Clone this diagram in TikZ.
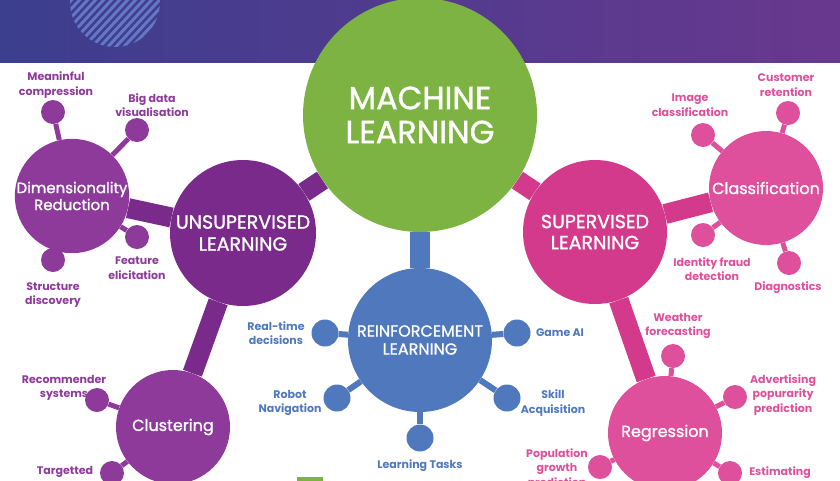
\documentclass[tikz,border=0pt]{standalone}
\usepackage{fontspec}
\setmainfont{Poppins}
\newfontfamily\hubfont{Poppins}[FakeBold=1.2]
\usepackage{tikz}
\usetikzlibrary{positioning, backgrounds}

\definecolor{bandleft}{RGB}{60,62,142}
\definecolor{bandright}{RGB}{104,56,142}
\definecolor{stripe}{RGB}{98,120,198}
\definecolor{mlgreen}{RGB}{124,179,66}
\definecolor{rlblue}{RGB}{79,120,189}
\definecolor{ulpurple}{RGB}{122,42,138}
\definecolor{ulsub}{RGB}{142,58,155}
\definecolor{slpink}{RGB}{211,58,140}
\definecolor{slsub}{RGB}{222,80,155}

\tikzstyle{hub} = [circle, text=white, align=center, inner sep=0pt]
\tikzstyle{leaf} = [circle, minimum size=24pt, inner sep=0pt]
\tikzstyle{tag} = [align=center, inner sep=0pt, font=\bfseries\fontsize{11}{14.5}\selectfont]
\tikzstyle{bar} = [line width=20pt]
\tikzstyle{twig} = [line width=5pt]

\begin{document}
\begin{tikzpicture}[x=1pt, y=-1pt]
    \useasboundingbox (0,0) rectangle (840,480);
    \clip (0,0) rectangle (840,480);

    % main circles
    \node (ml) [hub, fill=mlgreen, minimum size=234pt, font=\hubfont\fontsize{32}{34}\selectfont] at (420,115) {MACHINE\\LEARNING};
    \node (unsup) [hub, fill=ulpurple, minimum size=146pt, font=\hubfont\fontsize{19}{22}\selectfont] at (243,233) {UNSUPERVISED\\LEARNING};
    \node (sup) [hub, fill=slpink, minimum size=144pt, font=\hubfont\fontsize{19}{21}\selectfont] at (595,232) {SUPERVISED\\LEARNING};
    \node (rein) [hub, fill=rlblue, minimum size=144pt, font=\hubfont\fontsize{16}{18}\selectfont] at (420,340) {REINFORCEMENT\\LEARNING};

    % second level
    \node (dim) [hub, fill=ulsub, minimum size=110pt, font=\hubfont\fontsize{15}{17}\selectfont] at (72,196) {Dimensionality\\Reduction};
    \node (clus) [hub, fill=ulsub, minimum size=114pt, font=\hubfont\fontsize{16}{18}\selectfont] at (173,427) {Clustering};
    \node (clas) [hub, fill=slsub, minimum size=114pt, font=\hubfont\fontsize{16}{18}\selectfont] at (766,188) {Classification};
    \node (regr) [hub, fill=slsub, minimum size=114pt, font=\hubfont\fontsize{16}{18}\selectfont] at (665,433) {Regression};

    % dots
    \node (m1) [leaf, fill=ulsub] at (53,112) {};
    \node (m2) [leaf, fill=ulsub] at (137,130) {};
    \node (m3) [leaf, fill=ulsub] at (137,237) {};
    \node (m4) [leaf, fill=ulsub] at (53,260) {};
    \node (c1) [leaf, fill=ulsub] at (97,400) {};
    \node (c2) [leaf, fill=ulsub] at (112,473) {};
    \node (r1) [leaf, fill=rlblue, minimum size=27pt] at (325,333) {};
    \node (r2) [leaf, fill=rlblue, minimum size=27pt] at (517,333) {};
    \node (r3) [leaf, fill=rlblue, minimum size=27pt] at (337,398) {};
    \node (r4) [leaf, fill=rlblue, minimum size=27pt] at (507,398) {};
    \node (r5) [leaf, fill=rlblue, minimum size=27pt] at (420,438) {};
    \node (k1) [leaf, fill=slsub] at (703,135) {};
    \node (k2) [leaf, fill=slsub] at (788,113) {};
    \node (k3) [leaf, fill=slsub] at (703,235) {};
    \node (k4) [leaf, fill=slsub] at (789,263) {};
    \node (g1) [leaf, fill=slsub] at (673,356) {};
    \node (g2) [leaf, fill=slsub] at (735,397) {};
    \node (g3) [leaf, fill=slsub] at (600,467) {};
    \node (g4) [leaf, fill=slsub] at (730,473) {};

    % labels
    \node (m1t) [tag, text=ulsub] at (56,85) {Meaninful\\compression};
    \node (m2t) [tag, text=ulsub] at (152,105) {Big data\\visualisation};
    \node (m3t) [tag, text=ulsub] at (137,268) {Feature\\elicitation};
    \node (m4t) [tag, text=ulsub] at (53,295) {Structure\\discovery};
    \node (c1t) [tag, text=ulsub] at (64,388) {Recommender\\systems};
    \node (c2t) [tag, text=ulsub] at (65,472) {Targetted};
    \node (r1t) [tag, text=rlblue] at (276,333) {Real-time\\decisions};
    \node (r2t) [tag, text=rlblue] at (560,333) {Game AI};
    \node (r3t) [tag, text=rlblue] at (290,403) {Robot\\Navigation};
    \node (r4t) [tag, text=rlblue] at (553,403) {Skill\\Acquisition};
    \node (r5t) [tag, text=rlblue] at (420,466) {Learning Tasks};
    \node (k1t) [tag, text=slsub] at (690,105) {Image\\classification};
    \node (k2t) [tag, text=slsub] at (786,85) {Customer\\retention};
    \node (k3t) [tag, text=slsub] at (712,269) {Identity fraud\\detection};
    \node (k4t) [tag, text=slsub] at (788,288) {Diagnostics};
    \node (g1t) [tag, text=slsub] at (678,326) {Weather\\forecasting};
    \node (g2t) [tag, text=slsub] at (783,395) {Advertising\\popurarity\\prediction};
    \node (g3t) [tag, text=slsub] at (557,469) {Population\\growth\\prediction};
    \node (g4t) [tag, text=slsub] at (780,473) {Estimating};

    \fill[mlgreen] (297,477) rectangle (323,481);

    \begin{pgfonlayer}{background}
        % header band
        \fill[left color=bandleft, right color=bandright] (0,0) rectangle (840,62);
        \begin{scope}
            \clip (115,2) circle (45pt);
            \foreach \s in {-80,-72,...,80}
                \draw[stripe, line width=3pt] (115+\s-28,52) -- (115+\s+28,-8);
        \end{scope}

        \draw[bar, ulpurple] (ml) -- (unsup);
        \draw[bar, slpink] (ml) -- (sup);
        \draw[bar, rlblue] (ml) -- (rein);
        \draw[bar, ulpurple] (unsup) -- (dim);
        \draw[bar, ulpurple] (unsup) -- (clus);
        \draw[bar, slpink] (sup) -- (clas);
        \draw[bar, slpink] (sup) -- (regr);

        \foreach \d in {m1,m2,m3,m4} \draw[twig, ulsub] (dim) -- (\d);
        \foreach \d in {c1,c2} \draw[twig, ulsub] (clus) -- (\d);
        \foreach \d in {r1,r2,r3,r4,r5} \draw[twig, rlblue, line width=6pt] (rein) -- (\d);
        \foreach \d in {k1,k2,k3,k4} \draw[twig, slsub] (clas) -- (\d);
        \foreach \d in {g1,g2,g3,g4} \draw[twig, slsub] (regr) -- (\d);
    \end{pgfonlayer}
\end{tikzpicture}
\end{document}
